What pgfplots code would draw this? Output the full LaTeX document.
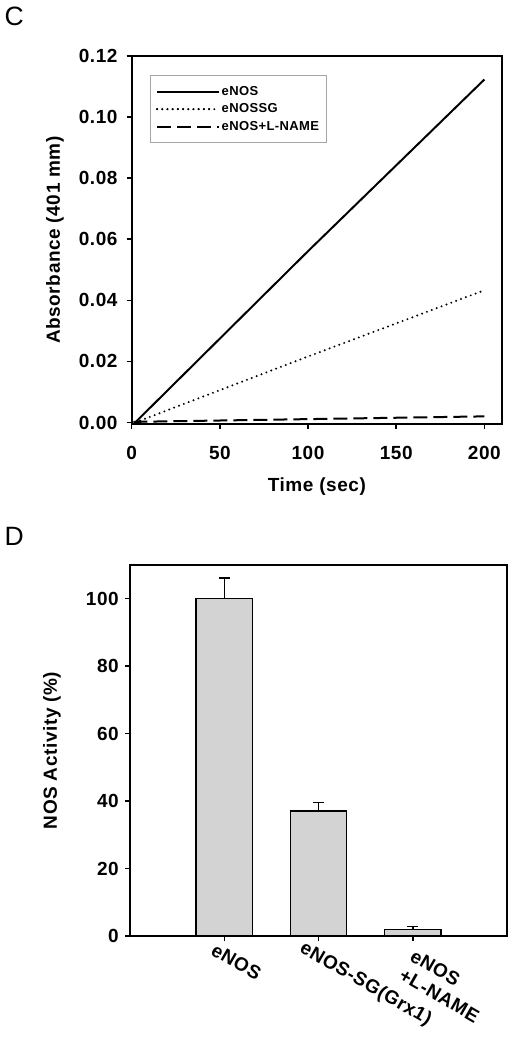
\documentclass[border=0pt]{standalone}
\usepackage{fontspec}
\setmainfont{Liberation Sans}[LetterSpace=3]
\usepackage{pgfplots}
\pgfplotsset{compat=1.18}
\definecolor{barfill}{RGB}{211,211,211}
\begin{document}
\begin{tikzpicture}[x=1pt,y=1pt]
\path[use as bounding box] (0,0) rectangle (512,-1050);
\node[anchor=north west, font=\fontsize{26.5}{30}\selectfont, inner sep=0pt] at (4.5,-7) {C};
\node[anchor=north west, font=\fontsize{26.5}{30}\selectfont, inner sep=0pt] at (4.5,-527) {D};

\pgfplotsset{
  myax/.style={
    scale only axis,
    axis line style={line width=1.8pt, black},
    tick style={line width=1.5pt, black},
    major tick length=5pt,
    tick align=outside,
    tick pos=left,
    /pgf/number format/assume math mode=true,
    ticklabel style={font=\fontsize{19}{22}\selectfont\bfseries, inner sep=0pt},
    label style={font=\fontsize{19}{22}\selectfont\bfseries, inner sep=0pt},
  }
}

\begin{axis}[myax,
  at={(131.7pt,-424pt)}, anchor=south west,
  width=370.3pt, height=368pt,
  xmin=0, xmax=210, ymin=-0.0005, ymax=0.12,
  xtick={0,50,100,150,200},
  ytick={0,0.02,0.04,0.06,0.08,0.10,0.12},
  yticklabel style={/pgf/number format/fixed, /pgf/number format/fixed zerofill, /pgf/number format/precision=2, xshift=-9pt},
  xticklabel style={yshift=-17pt},
  xlabel={Time (sec)},
  ylabel={Absorbance (401 mm)},
  xlabel style={at={(axis description cs:0.5,-0.170)}, anchor=center},
  ylabel style={at={(axis description cs:-0.207,0.5)}, anchor=center},
  legend style={at={(axis description cs:0.0494,0.948)}, anchor=north west,
    draw=gray!70, line width=1pt, font=\fontsize{13}{15}\selectfont\bfseries,
    inner xsep=5.5pt, inner ysep=8pt, row sep=1.5pt,
    nodes={inner sep=2pt, text height=9.5pt, text depth=2.5pt}},
  legend cell align=left,
  legend image code/.code={\draw[#1] (0pt,0pt) -- (52pt,0pt); \path (0pt,0pt) -- (61.5pt,0pt);},
]
\addplot[black, line width=2pt] coordinates {(2,0) (100,0.0561) (200,0.1123)};
\addlegendentry{eNOS}
\addplot[black, line width=2.2pt, line cap=round, dash pattern=on 0pt off 5.2pt] coordinates {(2,0) (100,0.0216) (200,0.0433)};
\addlegendentry{eNOSSG}
\addplot[black, line width=2pt, dash pattern=on 14pt off 6pt] coordinates {(1,0.0002) (100,0.0011) (200,0.0020)};
\addlegendentry{eNOS+L-NAME}
\end{axis}

\begin{axis}[myax,
  at={(130pt,-936pt)}, anchor=south west,
  width=377pt, height=371pt,
  xmin=0, xmax=4, ymin=0, ymax=110,
  xtick={1,2,3},
  xticklabels={eNOS, {\hspace*{-6pt}eNOS-SG(Grx1)}, {\hspace*{12pt}eNOS\\\hspace*{12pt}+L-NAME}},
  ytick={0,20,40,60,80,100},
  yticklabel style={xshift=-6pt},
  xticklabel style={rotate=-30, anchor=north west, align=left, xshift=-6pt, yshift=-5pt},
  ylabel={NOS Activity (\%)},
  ylabel style={at={(axis description cs:-0.207,0.5)}, anchor=center},
]
\addplot[ybar, bar width=56pt, fill=barfill, draw=black, line width=1.5pt,
  error bars/.cd, y dir=plus, y explicit,
  error bar style={line width=1.5pt, black},
  error mark options={rotate=90, line width=1.5pt, mark size=5.5pt, black}]
  table[x=x, y=y, y error=e] {
x y e
1 100 6.1
2 37.0 2.6
3 1.9 0.9
};
\end{axis}
\end{tikzpicture}
\end{document}
